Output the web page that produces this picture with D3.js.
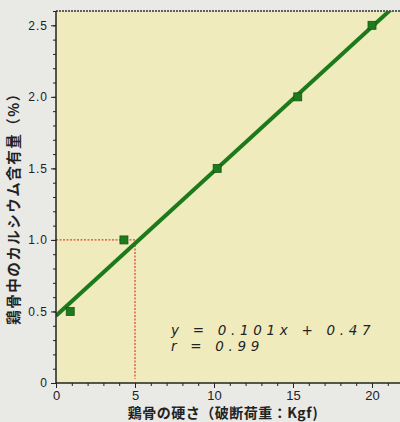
<!DOCTYPE html>
<meta charset="utf-8">
<title>鶏骨の硬さとカルシウム含有量</title>
<style>
body { margin: 0; background: #e9e9e6; font-family: "Liberation Sans", Arial, sans-serif; }
svg { display: block; }
.tick text { font-size: 12px; fill: #222; }
.axis path, .axis line { stroke: #222; }
</style>
<body>
<svg id="chart" width="400" height="422"></svg>
<script src="https://cdn.jsdelivr.net/npm/d3@7"></script>
<script>
// measured points
var hardness = [0.9, 4.3, 10.2, 15.3, 20.0];
var calcium  = [0.5, 1.0, 1.5, 2.0, 2.5];
// regression y = 0.101x + 0.47
var slope = 0.101, intercept = 0.47;
var xTicks = [0, 5, 10, 15, 20];
var yTicks = [0, 0.5, 1.0, 1.5, 2.0, 2.5];
var guideX = 5, guideY = 1.0;

var svg = d3.select("#chart");
var m = {left: 56, top: 11, bottom: 39};
var W = 400, H = 422;

var x = d3.scaleLinear().domain([0, 22]).range([m.left, m.left + 22 * 15.8]);
var y = d3.scaleLinear().domain([0, 2.6]).range([H - m.bottom, m.top]);

// plot background
svg.append("rect")
  .attr("x", x(0)).attr("y", y(2.6))
  .attr("width", W - x(0) + 10).attr("height", y(0) - y(2.6))
  .attr("fill", "#efebbd");

svg.append("defs").append("clipPath").attr("id", "clip")
  .append("rect")
  .attr("x", x(0)).attr("y", y(2.6))
  .attr("width", W).attr("height", y(0) - y(2.6));

// top border
svg.append("line")
  .attr("x1", x(0)).attr("x2", W)
  .attr("y1", y(2.6)).attr("y2", y(2.6))
  .attr("stroke", "#333").attr("stroke-width", 1.5)
  .attr("stroke-dasharray", "2,1");

// red guide lines
svg.append("path")
  .attr("d", d3.line()([[x(0), y(guideY)], [x(guideX), y(guideY)], [x(guideX), y(0.03)]]))
  .attr("fill", "none").attr("stroke", "#e8452c").attr("stroke-width", 1.3)
  .attr("stroke-dasharray", "2,1.5");

// regression line
var g = svg.append("g").attr("clip-path", "url(#clip)");
g.append("line")
  .attr("x1", x(0)).attr("y1", y(intercept))
  .attr("x2", x(22)).attr("y2", y(slope * 22 + intercept))
  .attr("stroke", "#1d7a1a").attr("stroke-width", 4);

// points
svg.selectAll("rect.pt").data(hardness).enter().append("rect")
  .attr("class", "pt")
  .attr("x", function(d) { return x(d) - 4; })
  .attr("y", function(d, i) { return y(calcium[i]) - 4; })
  .attr("width", 8).attr("height", 8)
  .attr("fill", "#1f7a1c").attr("stroke", "#14561a").attr("stroke-width", 0.8);

// axes
var xAxis = svg.append("g").attr("class", "axis")
  .attr("transform", "translate(0," + y(0) + ")")
  .call(d3.axisBottom(x).tickValues(d3.range(0, 23)).tickSize(3).tickFormat(""));
xAxis.select(".domain").attr("d", "M" + x(0) + ",0H" + W).attr("stroke-width", 1.5);
svg.append("g").attr("class", "axis")
  .attr("transform", "translate(0," + y(0) + ")")
  .call(d3.axisBottom(x).tickValues(xTicks).tickSize(5).tickPadding(3).tickFormat(d3.format("d")))
  .call(function(s) { s.select(".domain").remove(); s.selectAll("text").style("font-size", "13px"); });

var yAxis = svg.append("g").attr("class", "axis")
  .attr("transform", "translate(" + x(0) + ",0)")
  .call(d3.axisLeft(y).tickValues(d3.range(0, 27).map(function(i) { return i / 10; })).tickSize(3).tickFormat(""));
yAxis.select(".domain").attr("stroke-width", 1.5).attr("d", "M0," + y(0) + "V" + y(2.6));
svg.append("g").attr("class", "axis")
  .attr("transform", "translate(" + x(0) + ",0)")
  .call(d3.axisLeft(y).tickValues(yTicks).tickSize(5).tickPadding(3)
    .tickFormat(function(d) { return d === 0 ? "0" : d3.format(".1f")(d); }))
  .call(function(s) { s.select(".domain").remove(); s.selectAll("text").style("letter-spacing", "1px"); });

// equation
var eq = svg.append("g")
  .attr("font-family", "'DejaVu Sans', sans-serif")
  .attr("font-style", "italic").attr("font-size", 13.5)
  .attr("letter-spacing", "4.7px").attr("fill", "#222");
eq.append("text").attr("x", 171).attr("y", 335).text("y = 0.101x + 0.47");
eq.append("text").attr("x", 171).attr("y", 351).text("r = 0.99");

// axis titles
svg.append("text")
  .attr("x", 223).attr("y", 418)
  .attr("text-anchor", "middle")
  .attr("font-family", "'Noto Sans CJK JP', sans-serif")
  .attr("font-weight", "bold").attr("font-size", 14).attr("letter-spacing", "0.5px").attr("fill", "#222")
  .text("鶏骨の硬さ（破断荷重：Kgf)");

svg.append("text")
  .attr("transform", "translate(19,205) rotate(-90)")
  .attr("text-anchor", "middle")
  .attr("font-family", "'Noto Sans CJK JP', sans-serif")
  .attr("font-weight", "bold").attr("font-size", 14.5).attr("letter-spacing", "1.5px").attr("fill", "#222")
  .text("鶏骨中のカルシウム含有量（%）");
</script>
</body>
